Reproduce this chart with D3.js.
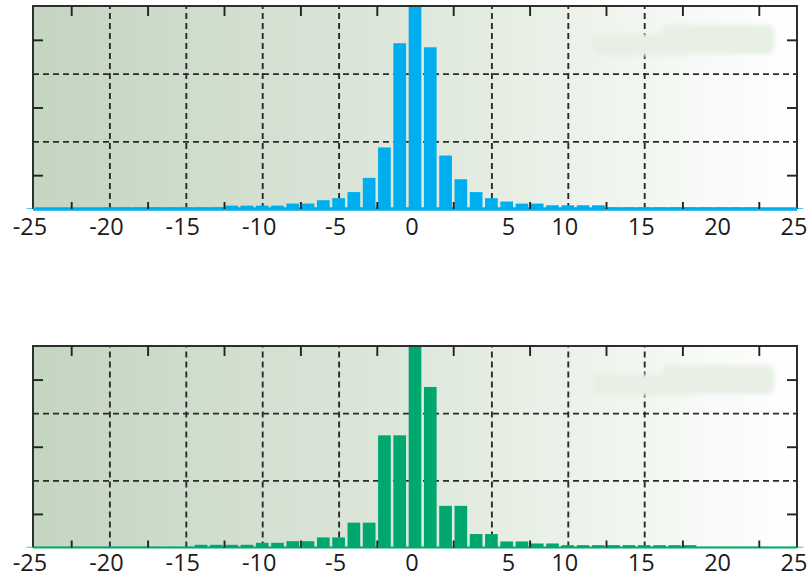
<!DOCTYPE html>
<html>
<head>
<meta charset="utf-8">
<script src="https://cdn.jsdelivr.net/npm/d3@7"></script>
<style>
  body { margin: 0; background: #fff; }
  svg { display: block; }
  .label { font-family: 'Open Sans', sans-serif; font-size: 23.5px; fill: #1c1a1b; }
</style>
</head>
<body>
<svg id="chart" width="809" height="579"></svg>
<script>
// ########################################## DATA
// one bin per integer offset, -25 .. 25
const bins = d3.range(-25, 26);

// top histogram (blue)
const blueValues = [
  0.001, 0.001, 0.001, 0.001, 0.001,                               // -25 .. -21
  0.0025, 0.0025, 0.0025, 0.0025, 0.0025, 0.0025, 0.0025, 0.0025,  // -20 .. -13
  0.005, 0.005, 0.005, 0.005, 0.008, 0.008, 0.013, 0.016,          // -12 .. -5
  0.025, 0.046, 0.091, 0.245,                                      // -4 .. -1
  0.3,                                                             // 0
  0.239, 0.079, 0.044, 0.025, 0.016, 0.011, 0.008, 0.008,          // 1 .. 8
  0.0055, 0.0055, 0.0055, 0.0055,                                  // 9 .. 12
  0.0025, 0.0025, 0.0025, 0.0025, 0.0025, 0.0025, 0.0025, 0.0025, 0.0025, 0.0025, // 13 .. 22
  0.001, 0.001, 0.001                                              // 23 .. 25
];

// bottom histogram (green)
const greenValues = [
  0.001, 0.001, 0.001, 0.001, 0.001, 0.001, 0.001, 0.001, 0.001, 0.001, 0.001, // -25 .. -15
  0.004, 0.004, 0.004, 0.004,                                      // -14 .. -11
  0.007, 0.007, 0.0094, 0.0094, 0.015, 0.015,                      // -10 .. -5
  0.037, 0.037, 0.167, 0.167,                                      // -4 .. -1
  0.3,                                                             // 0
  0.239, 0.062, 0.062, 0.020, 0.020, 0.009, 0.009, 0.006, 0.006,   // 1 .. 9
  0.0035, 0.0035, 0.0035, 0.0035, 0.0035, 0.0035, 0.0035, 0.0035, 0.0035, // 10 .. 18
  0.001, 0.001, 0.001, 0.001, 0.001, 0.001, 0.001                  // 19 .. 25
];

const xDomain = [-25, 25];
const yDomain = [0, 0.3];
const xLabels = [-25, -20, -15, -10, -5, 0, 5, 10, 15, 20, 25];
const xGrid = [-20, -15, -10, -5, 0, 5, 10, 15];
const xMinor = d3.range(-22.5, 25, 5);
const yGrid = [0.1, 0.2];
const yMinor = [0.05, 0.15, 0.25];

// ########################################## SETUP
const svg = d3.select('#chart');
const left = 33;
const right = 797;

const x = d3.scaleLinear().domain(xDomain).range([left, right]);
const step = x(1) - x(0);

// background fades from grey-green on the left to white on the right
const defs = svg.append('defs');
const grad = defs.append('linearGradient').attr('id', 'bg').attr('x1', '0%').attr('x2', '100%');
grad.append('stop').attr('offset', '0%').attr('stop-color', '#c4d5c1');
grad.append('stop').attr('offset', '48%').attr('stop-color', '#dde7da');
grad.append('stop').attr('offset', '72%').attr('stop-color', '#edf3eb');
grad.append('stop').attr('offset', '100%').attr('stop-color', '#ffffff');
defs.append('filter').attr('id', 'soft')
  .append('feGaussianBlur').attr('stdDeviation', 2);

// ########################################## ONE PANEL
function drawPanel(values, color, top, bottom, baseWidth) {
  const y = d3.scaleLinear().domain(yDomain).range([bottom, top]);
  const h = bottom - top;
  const g = svg.append('g');

  g.append('rect')
    .attr('x', left).attr('y', top)
    .attr('width', right - left).attr('height', h)
    .attr('fill', 'url(#bg)');

  // dashed grid, built from axes with full-length ticks
  g.append('g')
    .attr('transform', `translate(0,${bottom})`)
    .call(d3.axisBottom(x).tickValues(xGrid).tickSize(-h).tickFormat(''))
    .call((s) => s.select('.domain').remove())
    .selectAll('line')
    .attr('stroke', '#2b2b2b').attr('stroke-width', 1.9).attr('stroke-dasharray', '6,4');

  g.append('g')
    .attr('transform', `translate(${left},0)`)
    .call(d3.axisLeft(y).tickValues(yGrid).tickSize(-(right - left)).tickFormat(''))
    .call((s) => s.select('.domain').remove())
    .selectAll('line')
    .attr('stroke', '#2b2b2b').attr('stroke-width', 1.9).attr('stroke-dasharray', '6,4');

  // faint smudge in the upper right corner
  const smudge = g.append('g').attr('filter', 'url(#soft)').attr('fill', '#e8f0e6');
  smudge.append('rect').attr('x', 592).attr('y', top + 28).attr('width', 100).attr('height', 22).attr('rx', 6);
  smudge.append('rect').attr('x', 662).attr('y', top + 19).attr('width', 112).attr('height', 29).attr('rx', 6);

  // bars
  g.append('g')
    .selectAll('rect.bar')
    .data(bins.map((b, i) => ({ bin: b, value: values[i] })))
    .enter()
    .append('rect')
    .classed('bar', true)
    .attr('x', (d) => x(d.bin) - step * 0.415)
    .attr('width', step * 0.83)
    .attr('y', (d) => y(Math.min(d.value, yDomain[1])))
    .attr('height', (d) => bottom - y(Math.min(d.value, yDomain[1])))
    .attr('fill', color);

  // frame: left, top, right
  g.append('path')
    .attr('d', `M${left},${bottom}V${top}H${right}V${bottom}`)
    .attr('fill', 'none').attr('stroke', '#2e2e2e').attr('stroke-width', 2);

  // coloured baseline in place of the bottom axis line
  g.append('line')
    .attr('x1', left).attr('x2', right)
    .attr('y1', bottom).attr('y2', bottom)
    .attr('stroke', color).attr('stroke-width', baseWidth);

  // minor ticks, all pointing inward
  const tickStyle = (s) => {
    s.select('.domain').remove();
    s.selectAll('line').attr('stroke', '#222').attr('stroke-width', 1.9);
  };
  g.append('g').attr('transform', `translate(0,${top})`)
    .call(d3.axisTop(x).tickValues(xMinor).tickSize(-10).tickFormat(''))
    .call(tickStyle);
  g.append('g').attr('transform', `translate(0,${bottom})`)
    .call(d3.axisBottom(x).tickValues(xMinor).tickSize(-7).tickFormat(''))
    .call(tickStyle);
  g.append('g').attr('transform', `translate(${left},0)`)
    .call(d3.axisLeft(y).tickValues(yMinor).tickSize(-10).tickFormat(''))
    .call(tickStyle);
  g.append('g').attr('transform', `translate(${right},0)`)
    .call(d3.axisRight(y).tickValues(yMinor).tickSize(-10).tickFormat(''))
    .call(tickStyle);

  // tick labels (the source sets the "5" off to the right of its tick)
  g.append('g')
    .selectAll('text.label')
    .data(xLabels)
    .enter()
    .append('text')
    .classed('label', true)
    .style('text-anchor', 'middle')
    .attr('x', (d) => x(d) + (d === 5 ? 17 : -3))
    .attr('y', bottom + (top < 100 ? 26 : 23))
    .text((d) => d);
}

drawPanel(blueValues, '#00aeef', 6, 209, 3.5);
drawPanel(greenValues, '#00a870', 346, 547.5, 2);
</script>
</body>
</html>
